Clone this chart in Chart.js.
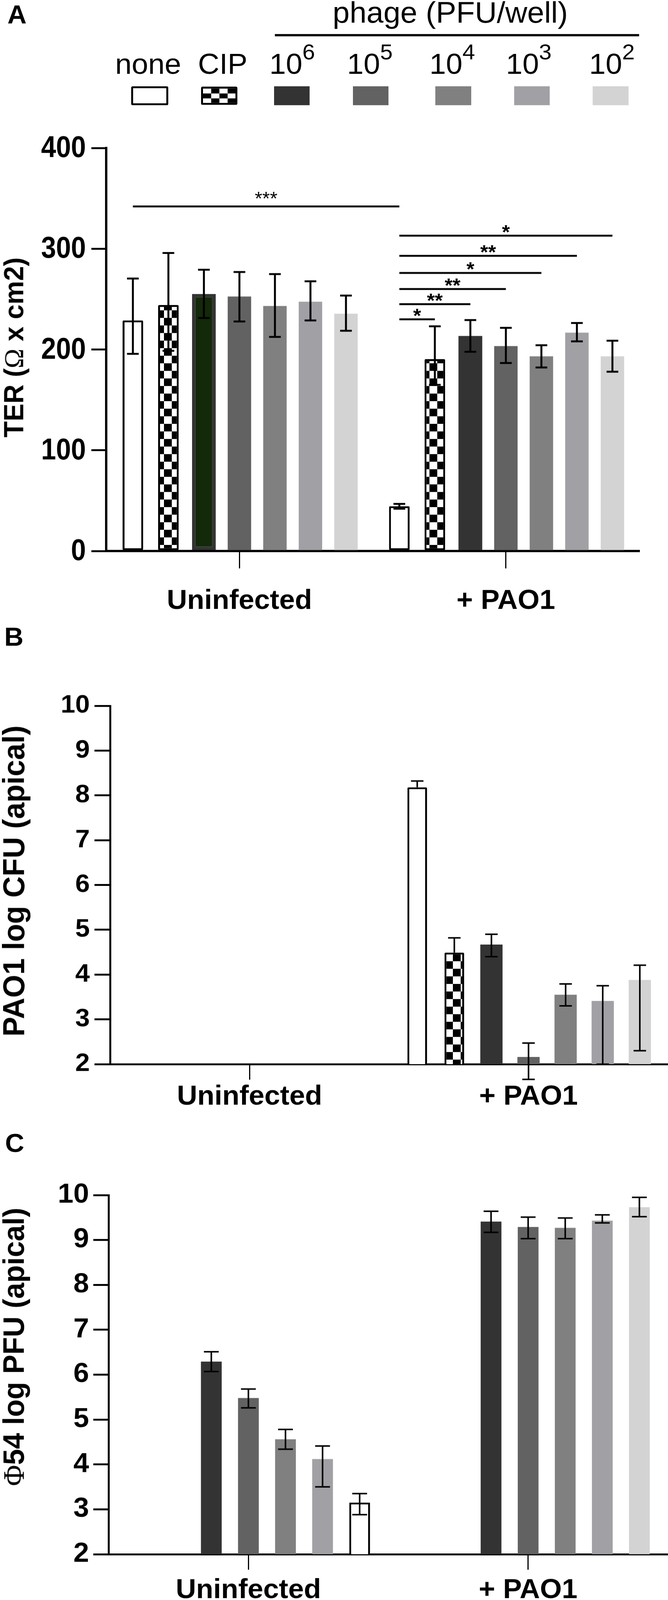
<!DOCTYPE html>
<html>
<head>
<meta charset="utf-8">
<script src="https://cdn.jsdelivr.net/npm/chart.js@4.4.1/dist/chart.umd.min.js"></script>
<style>
  html, body { margin: 0; padding: 0; background: #fff; overflow: hidden; }
  #page { position: relative; width: 1711px; height: 4228px; overflow: hidden; transform-origin: 0 0;
          font-family: "Liberation Sans", Arial, sans-serif; color: #000; }
  canvas { position: absolute; left: 0; }
  .t { position: absolute; white-space: nowrap; line-height: 1; }
  .sup { font-size: 58px; position: relative; top: -38px; }
  .sw { position: absolute; box-sizing: border-box; }
  .ytitle { position: absolute; white-space: nowrap; font-weight: bold; line-height: 1;
            transform: translate(-50%, -50%) rotate(-90deg); }
  .greek { font-family: "Liberation Serif", "Times New Roman", serif; font-weight: normal; }
</style>
</head>
<body>
<div id="page">
  <canvas id="cA" width="1711" height="1320" style="top:340px"></canvas>
  <canvas id="cB" width="1711" height="1180" style="top:1760px"></canvas>
  <canvas id="cC" width="1711" height="1168" style="top:3060px"></canvas>

  <div class="t" style="left:19px;top:4px;font-size:68px;font-weight:bold">A</div>
  <div class="t" style="left:11px;top:1648px;font-size:68px;font-weight:bold">B</div>
  <div class="t" style="left:13px;top:2986px;font-size:68px;font-weight:bold">C</div>

  <div class="t" style="left:852px;top:-6px;font-size:78px">phage (PFU/well)</div>
  <div style="position:absolute;left:704px;top:90px;width:933px;height:6px;background:#000"></div>

  <div class="t" style="left:295px;top:131px;font-size:76px">none</div>
  <div class="t" style="left:507px;top:131px;font-size:76px">CIP</div>
  <div class="t" style="left:690px;top:131px;font-size:76px">10<span class="sup">6</span></div>
  <div class="t" style="left:889px;top:131px;font-size:76px">10<span class="sup">5</span></div>
  <div class="t" style="left:1100px;top:131px;font-size:76px">10<span class="sup">4</span></div>
  <div class="t" style="left:1296px;top:131px;font-size:76px">10<span class="sup">3</span></div>
  <div class="t" style="left:1509px;top:131px;font-size:76px">10<span class="sup">2</span></div>

  <div class="sw" style="left:336px;top:228px;width:95px;height:50px;border:5px solid #000;border-radius:4px;background:#fff"></div>
  <div class="sw" style="left:515px;top:229px;width:93px;height:48px;border:5px solid #000;border-radius:4px;background:repeating-conic-gradient(#000 0 25%, #fff 0 50%) 0 0/42px 26px"></div>
  <div class="sw" style="left:702px;top:228px;width:91px;height:50px;background:#333333"></div>
  <div class="sw" style="left:904px;top:228px;width:91px;height:50px;background:#626262"></div>
  <div class="sw" style="left:1115px;top:228px;width:92px;height:50px;background:#808080"></div>
  <div class="sw" style="left:1317px;top:228px;width:91px;height:50px;background:#a1a1a5"></div>
  <div class="sw" style="left:1518px;top:228px;width:92px;height:50px;background:#d3d3d3"></div>

  <div class="ytitle" style="left:36px;top:918px;font-size:70px">TER (<span class="greek">Ω</span> x cm2)</div>
  <div class="ytitle" style="left:35px;top:2328px;font-size:78px">PAO1 log CFU (apical)</div>
  <div class="ytitle" style="left:35px;top:3559px;font-size:76px"><span class="greek">Φ</span>54 log PFU (apical)</div>
</div>

<script>
// categories and series
const groups = ['Uninfected', '+ PAO1'];

// A: TER (ohm x cm2), bar value and error bar ends
const terTicks = [0, 100, 200, 300, 400];
const terNone = [228.8, 44.4];
const terNoneLo = [195.7, 42.0];
const terNoneHi = [270.4, 46.8];
const terCIP = [244.1, 190.4];
const terCIPLo = [198.7, 164.9];
const terCIPHi = [295.8, 223.0];
const ter6 = [255.1, 213.4];
const ter6Lo = [231.3, 197.7];
const ter6Hi = [279.2, 229.2];
const ter5 = [252.6, 203.4];
const ter5Lo = [227.8, 186.6];
const ter5Hi = [276.9, 221.5];
const ter4 = [243.2, 193.2];
const ter4Lo = [212.5, 182.2];
const ter4Hi = [274.8, 204.2];
const ter3 = [247.4, 216.7];
const ter3Lo = [228.8, 208.1];
const ter3Hi = [267.7, 226.3];
const ter2 = [235.5, 193.2];
const ter2Lo = [218.6, 177.9];
const ter2Hi = [253.5, 208.7];

// A: significance, none vs none, then +PAO1 none vs each treatment
const infLevel = 342;
const infStars = '***';
const sigTargets = [1, 2, 3, 4, 5, 6];
const sigLevels = [230, 245, 260, 276, 293, 313];
const sigStars = ['*', '**', '**', '*', '**', '*'];

// B: PAO1 log CFU (apical)
const logTicks = [2, 3, 4, 5, 6, 7, 8, 9, 10];
const cfuNone = [null, 8.18];
const cfuNoneLo = [null, 8.18];
const cfuNoneHi = [null, 8.32];
const cfuCIP = [null, 4.49];
const cfuCIPLo = [null, 4.49];
const cfuCIPHi = [null, 4.82];
const cfu6 = [null, 4.67];
const cfu6Lo = [null, 4.40];
const cfu6Hi = [null, 4.90];
const cfu5 = [null, 2.16];
const cfu5Lo = [null, 1.66];
const cfu5Hi = [null, 2.47];
const cfu4 = [null, 3.55];
const cfu4Lo = [null, 3.30];
const cfu4Hi = [null, 3.79];
const cfu3 = [null, 3.41];
const cfu3Lo = [null, 2.00];
const cfu3Hi = [null, 3.75];
const cfu2 = [null, 3.88];
const cfu2Lo = [null, 2.30];
const cfu2Hi = [null, 4.21];

// C: phage log PFU (apical)
const pfuNone = [null, null];
const pfuCIP = [null, null];
const pfu6 = [6.29, 9.41];
const pfu6Lo = [6.07, 9.17];
const pfu6Hi = [6.51, 9.64];
const pfu5 = [5.48, 9.29];
const pfu5Lo = [5.26, 9.03];
const pfu5Hi = [5.68, 9.51];
const pfu4 = [4.56, 9.27];
const pfu4Lo = [4.34, 9.03];
const pfu4Hi = [4.78, 9.49];
const pfu3 = [4.12, 9.43];
const pfu3Lo = [3.50, 9.38];
const pfu3Hi = [4.41, 9.56];
const pfu2 = [3.15, 9.73];
const pfu2Lo = [2.88, 9.52];
const pfu2Hi = [3.35, 9.95];

const FONT = '"Liberation Sans", Arial, sans-serif';
Chart.defaults.font.family = FONT;
Chart.defaults.color = '#000';

// the figure is 4228 tall; squeeze it into a shorter viewport if needed
const fit = Math.min(1, window.innerHeight / 4228);
if (fit < 1) document.getElementById('page').style.transform = 'scaleY(' + fit + ')';

function checker(size) {
  const c = document.createElement('canvas');
  c.width = c.height = size * 2;
  const g = c.getContext('2d');
  g.fillStyle = '#fff';
  g.fillRect(0, 0, size * 2, size * 2);
  g.fillStyle = '#000';
  g.fillRect(0, 0, size, size);
  g.fillRect(size, size, size, size);
  return g.createPattern(c, 'repeat');
}
const checkers = checker(20);

const errPlugin = {
  id: 'err',
  afterDatasetsDraw(chart, args, opts) {
    const { ctx, scales: { y } } = chart;
    ctx.save();
    ctx.strokeStyle = '#000';
    ctx.lineWidth = opts.width;
    chart.data.datasets.forEach((ds, di) => {
      if (!ds.errHi) return;
      chart.getDatasetMeta(di).data.forEach((bar, i) => {
        const v = ds.data[i];
        if (v == null) return;
        const hi = y.getPixelForValue(ds.errHi[i]);
        const lo = y.getPixelForValue(ds.errLo[i]);
        const h = opts.cap / 2;
        ctx.beginPath();
        ctx.moveTo(bar.x, hi);
        ctx.lineTo(bar.x, lo);
        ctx.moveTo(bar.x - h, hi);
        ctx.lineTo(bar.x + h, hi);
        if (ds.errLo[i] < v) {
          ctx.moveTo(bar.x - h, lo);
          ctx.lineTo(bar.x + h, lo);
        }
        ctx.stroke();
      });
    });
    ctx.restore();
  }
};

const sigPlugin = {
  id: 'sig',
  afterDatasetsDraw(chart) {
    const { ctx, scales: { y } } = chart;
    const xOf = (ds, i) => chart.getDatasetMeta(ds).data[i].x;
    const bracket = (x1, x2, v, label, font, dy) => {
      const py = y.getPixelForValue(v);
      ctx.beginPath();
      ctx.moveTo(x1, py);
      ctx.lineTo(x2, py);
      ctx.stroke();
      ctx.font = font;
      ctx.fillText(label, (x1 + x2) / 2, py + dy);
    };
    ctx.save();
    ctx.strokeStyle = '#000';
    ctx.fillStyle = '#000';
    ctx.lineWidth = 5;
    ctx.textAlign = 'center';
    ctx.textBaseline = 'alphabetic';
    bracket(xOf(0, 0), xOf(0, 1), infLevel, infStars, '50px ' + FONT, -3);
    sigTargets.forEach((ds, k) => {
      bracket(xOf(0, 1), xOf(ds, 1), sigLevels[k], sigStars[k], 'bold 52px ' + FONT, 8);
    });
    ctx.restore();
  }
};

// condensed tick numbers on the TER axis
const narrowTicks = {
  id: 'narrowTicks',
  afterDraw(chart) {
    const { ctx, scales: { y } } = chart;
    ctx.save();
    ctx.fillStyle = '#000';
    ctx.font = 'bold 80px ' + FONT;
    ctx.textAlign = 'right';
    ctx.textBaseline = 'middle';
    y.ticks.forEach((t, i) => {
      ctx.save();
      ctx.translate(y.right - 52, y.getPixelForTick(i) + 2);
      ctx.scale(0.86, 1);
      ctx.fillText(String(t.value), 0, 0);
      ctx.restore();
    });
    ctx.restore();
  }
};

function makeChart(id, cfg) {
  return new Chart(document.getElementById(id), {
    type: 'bar',
    data: { labels: groups, datasets: cfg.datasets },
    plugins: cfg.plugins,
    options: {
      responsive: false,
      animation: false,
      devicePixelRatio: 1,
      layout: { padding: { top: cfg.padTop, right: cfg.padRight, left: 0, bottom: 0 } },
      plugins: {
        legend: { display: false },
        tooltip: { enabled: false },
        err: cfg.err
      },
      datasets: { bar: { categoryPercentage: cfg.catPct, borderSkipped: false, inflateAmount: 0 } },
      scales: {
        x: {
          z: 1,
          grid: { offset: false, drawOnChartArea: false, drawTicks: true, tickLength: cfg.xTick,
                  tickWidth: 3, lineWidth: 3, tickColor: '#000' },
          border: { display: true, color: '#000', width: cfg.axisW },
          ticks: { color: '#000', padding: cfg.xPad, maxRotation: 0, autoSkip: false,
                   font: { size: 72, weight: 'bold' } },
          afterFit: s => { s.height = cfg.xHeight; }
        },
        y: {
          z: 1,
          min: cfg.ticks[0],
          max: cfg.ticks[cfg.ticks.length - 1],
          afterBuildTicks: s => { s.ticks = cfg.ticks.map(v => ({ value: v })); },
          grid: { drawOnChartArea: false, drawTicks: true, tickLength: cfg.yTick,
                  tickWidth: cfg.tickW, lineWidth: cfg.tickW, tickColor: '#000' },
          border: { display: true, color: '#000', width: cfg.axisW },
          ticks: { display: cfg.yLabels, color: '#000', padding: cfg.yPad,
                   font: { size: cfg.yFont, weight: 'bold' } },
          afterFit: s => { s.width = cfg.yWidth; }
        }
      }
    }
  });
}

const outlined = (data, lo, hi, fill, bp) => ({
  data, errLo: lo, errHi: hi, backgroundColor: fill, borderColor: '#000',
  borderWidth: 5, borderRadius: 3, barPercentage: bp
});
const solid = (data, lo, hi, fill, bp) => ({
  data, errLo: lo, errHi: hi, backgroundColor: fill, borderWidth: 0, barPercentage: bp
});

// A
makeChart('cA', {
  ticks: terTicks, yLabels: false, yFont: 80, yPad: 12,
  padTop: 51, padRight: 74, yWidth: 272, xHeight: 204,
  xTick: 46, xPad: 44, yTick: 38, tickW: 5, axisW: 6, catPct: 0.933,
  err: { width: 5, cap: 30 },
  plugins: [errPlugin, sigPlugin, narrowTicks],
  datasets: [
    outlined(terNone, terNoneLo, terNoneHi, '#ffffff', 0.58),
    outlined(terCIP, terCIPLo, terCIPHi, checkers, 0.58),
    { data: ter6, errLo: ter6Lo, errHi: ter6Hi, backgroundColor: ['#13290a', '#333333'],
      borderColor: '#333333', borderWidth: [9, 0], barPercentage: 0.67 },
    solid(ter5, ter5Lo, ter5Hi, '#626262', 0.66),
    solid(ter4, ter4Lo, ter4Hi, '#808080', 0.66),
    solid(ter3, ter3Lo, ter3Hi, '#a1a1a5', 0.66),
    solid(ter2, ter2Lo, ter2Hi, '#d3d3d3', 0.66)
  ]
});

// B
makeChart('cB', {
  ticks: logTicks, yLabels: true, yFont: 67, yPad: 12,
  padTop: 105, padRight: 0, yWidth: 282, xHeight: 128,
  xTick: 41, xPad: 3, yTick: 40, tickW: 5, axisW: 5, catPct: 0.931,
  err: { width: 4, cap: 32 },
  plugins: [errPlugin],
  datasets: [
    outlined(cfuNone, cfuNoneLo, cfuNoneHi, '#ffffff', 0.53),
    outlined(cfuCIP, cfuCIPLo, cfuCIPHi, checkers, 0.53),
    solid(cfu6, cfu6Lo, cfu6Hi, '#333333', 0.6),
    solid(cfu5, cfu5Lo, cfu5Hi, '#626262', 0.6),
    solid(cfu4, cfu4Lo, cfu4Hi, '#808080', 0.6),
    solid(cfu3, cfu3Lo, cfu3Hi, '#a1a1a5', 0.6),
    solid(cfu2, cfu2Lo, cfu2Hi, '#d3d3d3', 0.6)
  ]
});

// C
makeChart('cC', {
  ticks: logTicks, yLabels: true, yFont: 72, yPad: 11,
  padTop: 98, padRight: 0, yWidth: 278, xHeight: 121,
  xTick: 41, xPad: 12, yTick: 39, tickW: 5, axisW: 5, catPct: 0.928,
  err: { width: 4, cap: 38 },
  plugins: [errPlugin],
  datasets: [
    solid(pfuNone, pfuNone, pfuNone, '#ffffff', 0.56),
    solid(pfuCIP, pfuCIP, pfuCIP, checkers, 0.56),
    solid(pfu6, pfu6Lo, pfu6Hi, '#333333', 0.56),
    solid(pfu5, pfu5Lo, pfu5Hi, '#626262', 0.56),
    solid(pfu4, pfu4Lo, pfu4Hi, '#808080', 0.56),
    solid(pfu3, pfu3Lo, pfu3Hi, '#a1a1a5', 0.56),
    { data: pfu2, errLo: pfu2Lo, errHi: pfu2Hi, backgroundColor: ['#ffffff', '#d3d3d3'],
      borderColor: '#000', borderWidth: [5, 0], borderSkipped: false, barPercentage: 0.56 }
  ]
});
</script>
</body>
</html>
